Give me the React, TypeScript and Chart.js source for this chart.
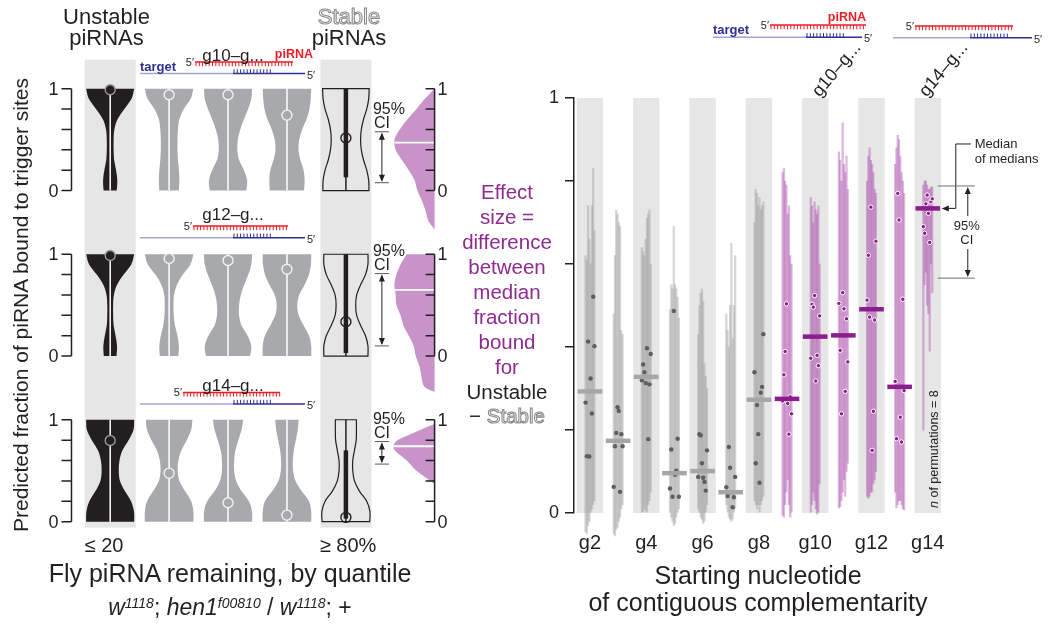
import React, { useEffect, useRef } from 'react';
import { Chart, registerables } from 'chart.js';

Chart.register(...registerables);

const FONT = '"Liberation Sans", Arial, Helvetica, sans-serif';
const INK = '#231f20';
const BAND = '#e6e6e6';
const GREY_VIOLIN = '#a7a9ac';
const PURPLE = '#8c1d8c';
const PURPLE_TEXT = '#8e2a90';
const PURPLE_FILL = '#c893c8';
const RED = '#ed1c24';
const NAVY = '#2e3192';
const NAVY_LIGHT = '#a3a5d3';

// ---------------- LEFT PANEL DATA ----------------
const rowLabels = ['g10–g...', 'g12–g...', 'g14–g...'];
const columnGroups = ['unstable', 'mid', 'mid', 'mid', 'stable'];
const violinLevels = [0, 0.1, 0.2, 0.3, 0.4, 0.5, 0.6, 0.7, 0.8, 0.9, 1];
const axisTicks = [0, 0.2, 0.4, 0.6, 0.8, 1];

// relative half-widths of each violin at violinLevels
const violinsG10 = [
  [0.27, 0.29, 0.24, 0.16, 0.14, 0.14, 0.17, 0.3, 0.58, 0.87, 0.98],
  [0.4, 0.42, 0.4, 0.36, 0.34, 0.34, 0.36, 0.42, 0.6, 0.88, 0.99],
  [0.75, 0.78, 0.65, 0.45, 0.38, 0.4, 0.5, 0.65, 0.82, 0.95, 0.98],
  [0.7, 0.72, 0.68, 0.55, 0.47, 0.5, 0.62, 0.8, 0.92, 0.97, 0.99],
  [0.94, 0.93, 0.85, 0.72, 0.63, 0.6, 0.63, 0.72, 0.85, 0.93, 0.95],
];
const violinsG12 = [
  [0.26, 0.28, 0.22, 0.14, 0.12, 0.12, 0.15, 0.28, 0.55, 0.86, 0.98],
  [0.38, 0.4, 0.34, 0.24, 0.19, 0.18, 0.2, 0.32, 0.56, 0.87, 0.99],
  [0.9, 0.95, 0.8, 0.55, 0.45, 0.45, 0.52, 0.66, 0.83, 0.95, 0.98],
  [0.99, 0.99, 0.9, 0.68, 0.48, 0.42, 0.5, 0.72, 0.9, 0.98, 0.99],
  [0.9, 0.9, 0.8, 0.6, 0.44, 0.4, 0.44, 0.6, 0.8, 0.9, 0.9],
];
const violinsG14 = [
  [0.98, 0.97, 0.85, 0.6, 0.4, 0.35, 0.38, 0.5, 0.75, 0.95, 0.98],
  [0.99, 0.99, 0.9, 0.65, 0.42, 0.35, 0.38, 0.5, 0.72, 0.9, 0.95],
  [0.98, 0.98, 0.85, 0.55, 0.33, 0.25, 0.25, 0.3, 0.42, 0.55, 0.62],
  [0.99, 0.99, 0.9, 0.6, 0.35, 0.25, 0.24, 0.28, 0.36, 0.44, 0.48],
  [0.97, 0.98, 0.85, 0.55, 0.35, 0.28, 0.28, 0.35, 0.42, 0.43, 0.43],
];
const violinRows = [violinsG10, violinsG12, violinsG14];

const mediansG10 = [0.99, 0.94, 0.94, 0.74, 0.516];
const mediansG12 = [0.987, 0.958, 0.939, 0.852, 0.338];
const mediansG14 = [0.797, 0.476, 0.186, 0.064, 0.042];
const medianRows = [mediansG10, mediansG12, mediansG14];

const stableBarLow = [0.13, 0.03, 0.03];
const stableBarHigh = [1.0, 1.0, 0.7];

const effectCILow = [0.077, 0.1, 0.565];
const effectCIHigh = [0.577, 0.81, 0.786];
const effectMedian = [0.47, 0.65, 0.74];

const effectLevelsG10 = [1, 0.9, 0.8, 0.7, 0.6, 0.5, 0.4, 0.3, 0.2, 0.1, 0, -0.1, -0.2, -0.3, -0.38];
const effectDensityG10 = [0, 0.24, 0.44, 0.66, 0.85, 0.98, 0.95, 0.8, 0.63, 0.49, 0.42, 0.31, 0.22, 0.15, 0];
const effectLevelsG12 = [1, 0.9, 0.8, 0.7, 0.6, 0.5, 0.4, 0.3, 0.2, 0.1, 0, -0.1, -0.2, -0.3, -0.35];
const effectDensityG12 = [0.68, 0.83, 0.93, 0.98, 0.95, 0.93, 0.83, 0.76, 0.63, 0.51, 0.46, 0.37, 0.32, 0.25, 0];
const effectLevelsG14 = [0.96, 0.88, 0.8, 0.74, 0.69, 0.6, 0.5, 0.37];
const effectDensityG14 = [0, 0.46, 0.9, 1.0, 0.95, 0.68, 0.44, 0];
const effectLevelRows = [effectLevelsG10, effectLevelsG12, effectLevelsG14];
const effectDensityRows = [effectDensityG10, effectDensityG12, effectDensityG14];

// ---------------- RIGHT PANEL DATA ----------------
const categories = ['g2', 'g3', 'g4', 'g5', 'g6', 'g7', 'g8', 'g9', 'g10', 'g11', 'g12', 'g13', 'g14'];
const significant = [0, 0, 0, 0, 0, 0, 0, 1, 1, 1, 1, 1, 1];
const medianOfMedians = [0.293, 0.174, 0.328, 0.096, 0.101, 0.05, 0.273, 0.275, 0.425, 0.428, 0.491, 0.304, 0.734];
const permutationMedians = [
  [0.266, 0.137, 0.413, 0.136, 0.324, 0.24, 0.521, 0.402],
  [0.063, 0.161, 0.193, 0.255, 0.246, 0.051, 0.19, 0.161],
  [0.32, 0.358, 0.339, 0.313, 0.397, 0.178, 0.31, 0.383],
  [0.059, 0.153, 0.039, 0.487, 0.092, 0.102, 0.179, 0.039],
  [0.087, 0.19, 0.187, 0.12, 0.085, 0.075, 0.054, 0.151],
  [0.062, 0.041, 0.159, 0.109, 0.05, 0.014, 0.038, 0.087],
  [0.339, 0.12, 0.26, 0.19, 0.073, 0.29, 0.304, 0.431],
  [0.27, 0.333, 0.389, 0.504, 0.264, 0.19, 0.28, 0.239],
  [0.373, 0.503, 0.496, 0.524, 0.318, 0.38, 0.355, 0.475],
  [0.505, 0.392, 0.239, 0.531, 0.492, 0.293, 0.468, 0.364],
  [0.513, 0.621, 0.472, 0.737, 0.151, 0.245, 0.465, 0.655],
  [0.317, 0.179, 0.77, 0.706, 0.231, 0.171, 0.515, 0.295],
  [0.69, 0.674, 0.745, 0.766, 0.722, 0.652, 0.75, 0.757],
];
const permutationLow = [
  [-0.045, -0.05, -0.03, -0.02, 0.0, 0.01, 0.02, 0.03],
  [-0.05, -0.055, -0.04, -0.035, -0.02, -0.01, 0.01, 0.02],
  [0.0, 0.003, 0.01, 0.005, 0.0, 0.02, 0.03, 0.05],
  [0.0, -0.01, -0.02, -0.03, -0.025, -0.01, 0.0, 0.01],
  [0.01, 0.0, -0.01, -0.015, -0.025, -0.02, 0.0, 0.02],
  [0.02, 0.0, -0.01, -0.015, -0.02, -0.015, 0.0, 0.01],
  [0.03, 0.02, 0.01, 0.02, 0.0, 0.02, 0.03, 0.04],
  [-0.005, -0.01, 0.02, 0.05, 0.08, 0.02, -0.01, 0.0],
  [0.0, 0.02, 0.05, 0.03, 0.01, -0.003, 0.0, 0.07],
  [0.012, 0.015, 0.03, 0.05, 0.08, 0.04, 0.1, 0.12],
  [0.04, 0.035, 0.04, 0.05, 0.05, 0.07, 0.08, 0.1],
  [0.05, 0.012, 0.02, 0.03, 0.03, 0.02, 0.01, 0.008],
  [0.2, 0.55, 0.58, 0.5, 0.48, 0.39, 0.6, 0.53],
];
const permutationHigh = [
  [0.62, 0.61, 0.74, 0.66, 0.6, 0.74, 0.83, 0.68],
  [0.48, 0.62, 0.73, 0.72, 0.7, 0.69, 0.44, 0.43],
  [0.64, 0.63, 0.62, 0.66, 0.71, 0.72, 0.73, 0.6],
  [0.49, 0.55, 0.54, 0.69, 0.55, 0.54, 0.52, 0.47],
  [0.43, 0.5, 0.53, 0.54, 0.51, 0.36, 0.33, 0.3],
  [0.48, 0.44, 0.4, 0.5, 0.65, 0.42, 0.5, 0.62],
  [0.7, 0.78, 0.77, 0.74, 0.76, 0.73, 0.74, 0.75],
  [0.82, 0.83, 0.8, 0.79, 0.72, 0.74, 0.62, 0.6],
  [0.76, 0.74, 0.7, 0.75, 0.73, 0.72, 0.74, 0.6],
  [0.87, 0.85, 0.8, 0.94, 0.84, 0.82, 0.86, 0.78],
  [0.8, 0.86, 0.88, 0.85, 0.84, 0.82, 0.78, 0.77],
  [0.84, 0.88, 0.91, 0.9, 0.86, 0.82, 0.8, 0.77],
  [0.79, 0.8, 0.8, 0.79, 0.78, 0.78, 0.785, 0.786],
];
const g14MedianCI = [0.566, 0.788];
const xTickIndex = [0, 2, 4, 6, 8, 10, 12];
const yTicksRight = [0, 0.2, 0.4, 0.6, 0.8, 1];

// ---------------- LAYOUT CONSTANTS ----------------
const ROW_STEP = 169 / 104;
const LEFT_W = 470;
const PAGE_H = 626;
const COL_PX = 60.575;
const X_MIN = 1 - 106.7 / COL_PX;
const Y_MAX = 1 + 84 / 104;
const VIOLIN_HW = 24.5;
const EFFECT_W = 41;
const JITTER = 0.045;

function smoothThrough(ctx, pts, move) {
  if (move) ctx.moveTo(pts[0][0], pts[0][1]);
  else ctx.lineTo(pts[0][0], pts[0][1]);
  for (let i = 0; i < pts.length - 1; i++) {
    const p0 = pts[Math.max(i - 1, 0)];
    const p1 = pts[i];
    const p2 = pts[i + 1];
    const p3 = pts[Math.min(i + 2, pts.length - 1)];
    ctx.bezierCurveTo(
      p1[0] + (p2[0] - p0[0]) / 6, p1[1] + (p2[1] - p0[1]) / 6,
      p2[0] - (p3[0] - p1[0]) / 6, p2[1] - (p3[1] - p1[1]) / 6,
      p2[0], p2[1]
    );
  }
}

function arrowHead(ctx, x, y, dir) {
  ctx.beginPath();
  if (dir === 'up') { ctx.moveTo(x, y); ctx.lineTo(x - 3, y + 7); ctx.lineTo(x + 3, y + 7); }
  else if (dir === 'down') { ctx.moveTo(x, y); ctx.lineTo(x - 3, y - 7); ctx.lineTo(x + 3, y - 7); }
  else { ctx.moveTo(x, y); ctx.lineTo(x + 7, y - 3); ctx.lineTo(x + 7, y + 3); }
  ctx.closePath();
  ctx.fill();
}

const leftPanelPlugin = {
  id: 'leftPanel',
  beforeDatasetsDraw(chart) {
    const { ctx } = chart;
    const xs = chart.scales.x;
    const ys = chart.scales.y;
    const X = (v) => xs.getPixelForValue(v);
    const Y = (r, v) => ys.getPixelForValue(v - r * ROW_STEP);
    ctx.save();
    const bandTop = Y(0, 1) - 29;
    const bandBot = Y(2, 0) + 6;
    columnGroups.forEach((g, c) => {
      if (g === 'mid') return;
      const cx = X(c + 1);
      ctx.fillStyle = BAND;
      ctx.fillRect(cx - 25.5, bandTop, 51, bandBot - bandTop);
    });

    violinRows.forEach((violins, r) => {
      violins.forEach((dens, c) => {
        const cx = X(c + 1);
        const left = violinLevels.map((v, i) => [cx - dens[i] * VIOLIN_HW, Y(r, v)]);
        const right = violinLevels.map((v, i) => [cx + dens[i] * VIOLIN_HW, Y(r, v)]).reverse();
        ctx.beginPath();
        smoothThrough(ctx, left, true);
        smoothThrough(ctx, right, false);
        ctx.closePath();
        const g = columnGroups[c];
        if (g === 'stable') {
          ctx.strokeStyle = INK;
          ctx.lineWidth = 1.2;
          ctx.stroke();
          ctx.beginPath();
          ctx.moveTo(cx, Y(r, 0));
          ctx.lineTo(cx, Y(r, 1));
          ctx.lineWidth = 1.5;
          ctx.stroke();
          ctx.beginPath();
          ctx.moveTo(cx, Y(r, stableBarLow[r]));
          ctx.lineTo(cx, Y(r, stableBarHigh[r]));
          ctx.lineWidth = 4.5;
          ctx.stroke();
        } else {
          ctx.fillStyle = g === 'unstable' ? INK : GREY_VIOLIN;
          ctx.fill();
          ctx.beginPath();
          ctx.moveTo(cx, Y(r, 0));
          ctx.lineTo(cx, Y(r, 1));
          ctx.strokeStyle = '#ffffff';
          ctx.lineWidth = 1.5;
          ctx.stroke();
        }
      });

      const ax = X(1) - 38.7;
      ctx.strokeStyle = INK;
      ctx.fillStyle = INK;
      ctx.lineWidth = 1.5;
      ctx.beginPath();
      ctx.moveTo(ax, Y(r, 0));
      ctx.lineTo(ax, Y(r, 1));
      axisTicks.forEach((t) => {
        ctx.moveTo(ax - 10, Y(r, t));
        ctx.lineTo(ax, Y(r, t));
      });
      ctx.stroke();
      ctx.font = `18px ${FONT}`;
      ctx.textAlign = 'right';
      ctx.textBaseline = 'middle';
      ctx.fillText('1', ax - 13, Y(r, 1) + 1);
      ctx.fillText('0', ax - 13, Y(r, 0) + 1);

      const cix = X(5) + 36;
      const yHi = Y(r, effectCIHigh[r]);
      const yLo = Y(r, effectCILow[r]);
      ctx.strokeStyle = '#58595b';
      ctx.lineWidth = 1;
      ctx.beginPath();
      ctx.moveTo(cix - 7, yHi); ctx.lineTo(cix + 7, yHi);
      ctx.moveTo(cix - 7, yLo); ctx.lineTo(cix + 7, yLo);
      ctx.stroke();
      ctx.strokeStyle = INK;
      ctx.beginPath();
      ctx.moveTo(cix, yHi + 2); ctx.lineTo(cix, yLo - 2);
      ctx.stroke();
      ctx.fillStyle = INK;
      arrowHead(ctx, cix, yHi + 1, 'up');
      arrowHead(ctx, cix, yLo - 1, 'down');
      ctx.font = `16px ${FONT}`;
      ctx.textAlign = 'left';
      ctx.fillText('95%', cix - 9, yHi - 22);
      ctx.fillText('CI', cix - 8, yHi - 8);

      const pa = X(5) + 88.7;
      const lv = effectLevelRows[r];
      const dn = effectDensityRows[r];
      const pts = lv.map((v, i) => [pa - dn[i] * EFFECT_W, Y(r, v)]);
      ctx.beginPath();
      ctx.moveTo(pa, Y(r, lv[0]));
      smoothThrough(ctx, pts, false);
      ctx.lineTo(pa, Y(r, lv[lv.length - 1]));
      ctx.closePath();
      ctx.fillStyle = PURPLE_FILL;
      ctx.fill();
      ctx.save();
      ctx.clip();
      ctx.strokeStyle = '#ffffff';
      ctx.lineWidth = 1.8;
      ctx.beginPath();
      ctx.moveTo(pa - 50, Y(r, effectMedian[r]));
      ctx.lineTo(pa, Y(r, effectMedian[r]));
      ctx.stroke();
      ctx.restore();

      ctx.strokeStyle = INK;
      ctx.lineWidth = 1.5;
      ctx.beginPath();
      ctx.moveTo(pa, Y(r, 0));
      ctx.lineTo(pa, Y(r, 1));
      axisTicks.forEach((t) => {
        ctx.moveTo(pa - 9, Y(r, t));
        ctx.lineTo(pa, Y(r, t));
      });
      ctx.stroke();
      ctx.fillStyle = INK;
      ctx.font = `18px ${FONT}`;
      ctx.textAlign = 'left';
      ctx.fillText('1', pa + 3, Y(r, 1) + 1);
      ctx.fillText('0', pa + 3, Y(r, 0) + 1);
    });
    ctx.restore();
  },
};

function leftConfig() {
  const pts = [];
  const bg = [];
  const bd = [];
  medianRows.forEach((meds, r) => {
    meds.forEach((m, c) => {
      pts.push({ x: c + 1, y: m - r * ROW_STEP });
      const g = columnGroups[c];
      bg.push(g === 'unstable' ? INK : g === 'mid' ? GREY_VIOLIN : 'rgba(0,0,0,0)');
      bd.push(g === 'unstable' ? '#9a9a9a' : g === 'mid' ? '#f2f2f2' : INK);
    });
  });
  return {
    type: 'scatter',
    data: {
      datasets: [
        {
          data: pts,
          pointRadius: 5,
          pointBackgroundColor: bg,
          pointBorderColor: bd,
          pointBorderWidth: 1.4,
          clip: false,
        },
      ],
    },
    options: {
      responsive: false,
      animation: false,
      devicePixelRatio: 1,
      events: [],
      layout: { padding: 0 },
      plugins: { legend: { display: false }, tooltip: { enabled: false } },
      scales: {
        x: { type: 'linear', display: false, bounds: 'data', min: X_MIN, max: X_MIN + LEFT_W / COL_PX },
        y: { type: 'linear', display: false, bounds: 'data', min: Y_MAX - PAGE_H / 104, max: Y_MAX },
      },
    },
    plugins: [leftPanelPlugin],
  };
}

const rightPanelPlugin = {
  id: 'rightPanel',
  beforeDatasetsDraw(chart) {
    const { ctx } = chart;
    const xs = chart.scales.x;
    const ys = chart.scales.y;
    ctx.save();
    ctx.fillStyle = BAND;
    categories.forEach((_, i) => {
      if (i % 2 !== 0) return;
      const l = xs.getPixelForValue(i - 0.47);
      const r = xs.getPixelForValue(i + 0.47);
      const t = ys.getPixelForValue(1);
      const b = ys.getPixelForValue(0);
      ctx.fillRect(l, t, r - l, b - t);
    });
    ctx.restore();
  },
  afterDatasetsDraw(chart) {
    const { ctx } = chart;
    const xs = chart.scales.x;
    const ys = chart.scales.y;
    const last = categories.length - 1;
    const cx = xs.getPixelForValue(last);
    const my = ys.getPixelForValue(medianOfMedians[last]);
    const ciHi = ys.getPixelForValue(g14MedianCI[1]);
    const ciLo = ys.getPixelForValue(g14MedianCI[0]);
    ctx.save();
    ctx.strokeStyle = INK;
    ctx.fillStyle = INK;
    ctx.lineWidth = 1;
    const topY = ciHi - 42;
    ctx.beginPath();
    ctx.moveTo(cx + 43, topY);
    ctx.lineTo(cx + 28, topY);
    ctx.lineTo(cx + 28, my);
    ctx.lineTo(cx + 20, my);
    ctx.stroke();
    arrowHead(ctx, cx + 14, my, 'left');
    ctx.font = `13px ${FONT}`;
    ctx.textAlign = 'left';
    ctx.textBaseline = 'middle';
    ctx.fillText('Median', cx + 47, topY);
    ctx.fillText('of medians', cx + 47, topY + 15);

    ctx.strokeStyle = '#6d6e71';
    ctx.beginPath();
    ctx.moveTo(cx + 10, ciHi); ctx.lineTo(cx + 47, ciHi);
    ctx.moveTo(cx + 10, ciLo); ctx.lineTo(cx + 47, ciLo);
    ctx.stroke();
    const ax = cx + 40;
    const mid = (ciHi + ciLo) / 2;
    ctx.strokeStyle = INK;
    ctx.beginPath();
    ctx.moveTo(ax, ciHi + 3); ctx.lineTo(ax, mid - 16);
    ctx.moveTo(ax, mid + 17); ctx.lineTo(ax, ciLo - 3);
    ctx.stroke();
    arrowHead(ctx, ax, ciHi + 1, 'up');
    arrowHead(ctx, ax, ciLo - 1, 'down');
    ctx.textAlign = 'center';
    ctx.fillText('95%', ax - 1, mid - 6);
    ctx.fillText('CI', ax - 1, mid + 8);

    ctx.translate(cx + 7, chart.chartArea.bottom - 5);
    ctx.rotate(-Math.PI / 2);
    ctx.textAlign = 'left';
    ctx.font = `italic 12.5px ${FONT}`;
    ctx.fillText('n', 0, 0);
    const w = ctx.measureText('n').width;
    ctx.font = `12.5px ${FONT}`;
    ctx.fillText(' of permutations = 8', w, 0);
    ctx.restore();
  },
};

function rightConfig() {
  const xPos = (ci, j) => ci + (j - 3.5) * JITTER;
  const lineData = [];
  const lineColors = [];
  categories.forEach((_, ci) => {
    permutationLow[ci].forEach((lo, j) => {
      lineData.push({ x: xPos(ci, j), y: [lo, permutationHigh[ci][j]] });
      lineColors.push(significant[ci] ? 'rgba(172,82,172,0.42)' : 'rgba(150,150,150,0.4)');
    });
  });
  const pts = (sig) =>
    categories.flatMap((_, ci) =>
      significant[ci] === sig ? permutationMedians[ci].map((m, j) => ({ x: xPos(ci, j), y: m })) : []
    );
  const meds = (sig) =>
    categories.flatMap((_, ci) => (significant[ci] === sig ? [{ x: ci, y: medianOfMedians[ci] }] : []));

  return {
    type: 'scatter',
    data: {
      datasets: [
        { type: 'bar', data: lineData, backgroundColor: lineColors, barThickness: 1.6, borderWidth: 0, clip: false, order: 3 },
        { type: 'scatter', data: pts(0), pointRadius: 2.2, pointBackgroundColor: '#5e5e5e', pointBorderWidth: 0, clip: false, order: 2 },
        { type: 'scatter', data: pts(1), pointRadius: 2.2, pointBackgroundColor: PURPLE, pointBorderColor: '#ffffff', pointBorderWidth: 1, clip: false, order: 2 },
        { type: 'scatter', data: meds(0), pointStyle: 'line', pointRadius: 12.3, pointBorderWidth: 4.5, pointBorderColor: '#a6a6a6', clip: false, order: 1 },
        { type: 'scatter', data: meds(1), pointStyle: 'line', pointRadius: 12.3, pointBorderWidth: 4.5, pointBorderColor: PURPLE, clip: false, order: 1 },
      ],
    },
    options: {
      responsive: false,
      animation: false,
      devicePixelRatio: 1,
      events: [],
      layout: { padding: { left: 0, right: 108, top: 98, bottom: 73 } },
      plugins: { legend: { display: false }, tooltip: { enabled: false } },
      scales: {
        x: {
          type: 'linear',
          bounds: 'data',
          min: -0.568,
          max: 12.505,
          offset: false,
          afterBuildTicks: (s) => { s.ticks = xTickIndex.map((v) => ({ value: v })); },
          afterFit: (s) => { s.height = 40; },
          ticks: {
            callback: (v) => categories[v],
            font: { family: FONT, size: 20 },
            color: INK,
            padding: 18,
            maxRotation: 0,
            autoSkip: false,
          },
          grid: { display: false, drawTicks: false, offset: false },
          border: { display: false },
        },
        y: {
          type: 'linear',
          bounds: 'data',
          min: 0,
          max: 1,
          stacked: false,
          afterBuildTicks: (s) => { s.ticks = yTicksRight.map((v) => ({ value: v })); },
          afterFit: (s) => { s.width = 44; },
          ticks: {
            callback: (v) => (v === 0 || v === 1 ? String(v) : ''),
            font: { family: FONT, size: 18 },
            color: INK,
            padding: 6,
          },
          grid: { drawOnChartArea: false, tickLength: 9, color: INK, lineWidth: 1.5 },
          border: { color: INK, width: 1.5 },
        },
      },
    },
    plugins: [rightPanelPlugin],
  };
}

// ---------------- DIAGRAMS (target / piRNA) ----------------
function Comb({ x0, x1, y, dir, color, width }) {
  const teeth = [];
  for (let x = x0; x <= x1 + 0.01; x += 3.3) teeth.push(x);
  return (
    <g stroke={color} strokeWidth={width}>
      {teeth.map((x, i) => (
        <line key={i} x1={x} x2={x} y1={y} y2={y + dir * 4.2} />
      ))}
    </g>
  );
}

function Diagram({ x0, x1, yt, xd, xb, r0, r1, yr, labels, piX }) {
  return (
    <g>
      <line x1={x0} x2={xd} y1={yt} y2={yt} stroke={NAVY_LIGHT} strokeWidth={1.6} />
      <line x1={xd} x2={x1} y1={yt} y2={yt} stroke={NAVY} strokeWidth={1.6} />
      <Comb x0={xd + 1} x1={xb} y={yt} dir={-1} color={NAVY} width={1} />
      <line x1={r0} x2={r1} y1={yr} y2={yr} stroke={RED} strokeWidth={1.6} />
      <Comb x0={r0 + 1} x1={r1} y={yr} dir={1} color={RED} width={1} />
      <text x={r0 - 1} y={yr + 3.5} fontSize={11} textAnchor="end" fill={INK} fontFamily={FONT}>5′</text>
      <text x={x1 + 2} y={yt + 5} fontSize={11} fill={INK} fontFamily={FONT}>5′</text>
      {labels ? (
        <>
          <text x={x0} y={yt - 3} fontSize={13} fontWeight="bold" fill={NAVY} fontFamily={FONT}>target</text>
          <text x={piX} y={yr - 4} fontSize={12.5} fontWeight="bold" fill={RED} textAnchor="end" fontFamily={FONT}>piRNA</text>
        </>
      ) : null}
    </g>
  );
}

function T({ x, y, size, children, style = {} }) {
  return (
    <div
      style={{
        position: 'absolute',
        left: x,
        top: y,
        transform: 'translate(-50%, -50%)',
        fontSize: size,
        lineHeight: 1,
        whiteSpace: 'nowrap',
        ...style,
      }}
    >
      {children}
    </div>
  );
}

const outline = { color: '#ffffff', WebkitTextStroke: '1.1px #8a8a8a' };
const supStyle = { fontSize: 14, fontStyle: 'italic', verticalAlign: '0.5em', lineHeight: 0 };

export default function App() {
  const leftRef = useRef(null);
  const rightRef = useRef(null);

  useEffect(() => {
    const l = new Chart(leftRef.current, leftConfig());
    const r = new Chart(rightRef.current, rightConfig());
    return () => {
      l.destroy();
      r.destroy();
    };
  }, []);

  const rowLabelY = [55, 214, 385];

  return (
    <div
      style={{
        position: 'absolute',
        left: 0,
        top: 0,
        width: 1050,
        height: 626,
        overflow: 'hidden',
        background: '#ffffff',
        fontFamily: FONT,
        color: INK,
      }}
    >
      <canvas ref={leftRef} width={470} height={626} style={{ position: 'absolute', left: 0, top: 0, width: 470, height: 626 }} />
      <canvas ref={rightRef} width={520} height={626} style={{ position: 'absolute', left: 530, top: 0, width: 520, height: 626 }} />

      <svg width={1050} height={626} style={{ position: 'absolute', left: 0, top: 0, pointerEvents: 'none' }}>
        <Diagram x0={140} x1={305} yt={73.5} xd={233} xb={272} r0={195} r1={293} yr={62} labels={true} piX={313} />
        <Diagram x0={140} x1={305} yt={237.7} xd={233} xb={272} r0={193} r1={288} yr={226} labels={false} />
        <Diagram x0={140} x1={305} yt={404} xd={233} xb={272} r0={183} r1={280} yr={392.5} labels={false} />
        <Diagram x0={713} x1={862} yt={37.3} xd={806} xb={845} r0={770} r1={866} yr={25} labels={true} piX={866} />
        <Diagram x0={893} x1={1032} yt={37.7} xd={970} xb={1010} r0={915} r1={1013} yr={26} labels={false} />
      </svg>

      <T x={106.5} y={17} size={22}>Unstable</T>
      <T x={106.5} y={38} size={22}>piRNAs</T>
      <T x={349} y={17} size={22} style={outline}>Stable</T>
      <T x={349} y={38} size={22}>piRNAs</T>
      {rowLabels.map((lab, i) => (
        <T key={lab} x={233} y={rowLabelY[i]} size={17}>{lab}</T>
      ))}

      <T x={20} y={305} size={21} style={{ transform: 'translate(-50%, -50%) rotate(-90deg)' }}>
        Predicted fraction of piRNA bound to trigger sites
      </T>

      <T x={104} y={545} size={20}>≤ 20</T>
      <T x={348} y={545} size={20}>≥ 80%</T>
      <T x={230} y={573} size={25}>Fly piRNA remaining, by quantile</T>
      <T x={230} y={607} size={23}>
        <i>w</i><span style={supStyle}>1118</span>; <i>hen1</i>
        <span style={supStyle}>f00810</span> / <i>w</i>
        <span style={supStyle}>1118</span>; +
      </T>

      <div
        style={{
          position: 'absolute',
          left: 507,
          top: 180.3,
          transform: 'translateX(-50%)',
          textAlign: 'center',
          fontSize: 20.5,
          lineHeight: '24.9px',
          color: PURPLE_TEXT,
          whiteSpace: 'nowrap',
        }}
      >
        <div>Effect</div>
        <div>size =</div>
        <div>difference</div>
        <div>between</div>
        <div>median</div>
        <div>fraction</div>
        <div>bound</div>
        <div>for</div>
        <div style={{ color: INK }}>Unstable</div>
        <div style={{ color: INK }}>
          − <span style={outline}>Stable</span>
        </div>
      </div>

      <T x={836} y={69} size={18} style={{ transform: 'translate(-50%, -50%) rotate(-50deg)' }}>g10–g...</T>
      <T x={943} y={69} size={18} style={{ transform: 'translate(-50%, -50%) rotate(-50deg)' }}>g14–g...</T>

      <T x={758} y={575} size={25}>Starting nucleotide</T>
      <T x={758} y={602} size={25}>of contiguous complementarity</T>
    </div>
  );
}
